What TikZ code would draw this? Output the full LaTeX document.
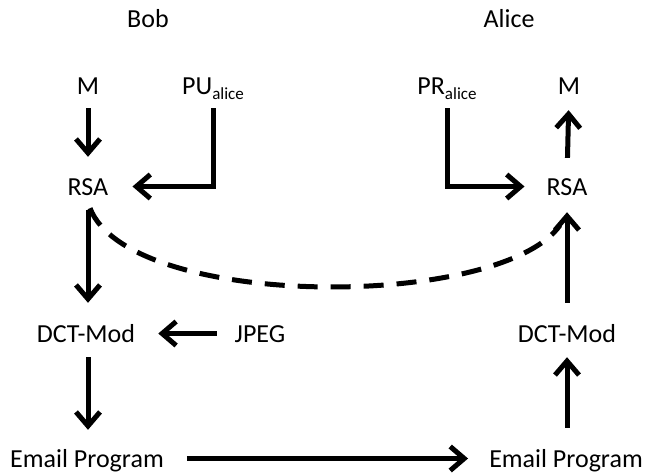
\documentclass[tikz,border=0pt]{standalone}
\usepackage{fontspec}
\setmainfont{Carlito}
\usetikzlibrary{arrows.meta}
\begin{document}
\begin{tikzpicture}[x=1pt,y=-1pt,
  lbl/.style={anchor=base,inner sep=0pt,text height=17pt,text depth=0pt,font=\fontsize{26}{30}\selectfont},
  conn/.style={line width=5pt,-{Straight Barb[length=14pt,width=24pt]}},
  dashline/.style={line width=5pt,dash pattern=on 20pt off 13pt}]
\useasboundingbox (0,0) rectangle (645,474);
\newcommand{\sub}[1]{\raisebox{-5pt}{\fontsize{17}{17}\selectfont #1}}
% headings
\node[lbl] (bob) at (148,27) {Bob};
\node[lbl] (alice) at (509,27) {Alice};
% Bob side
\node[lbl] (mL) at (88,94) {M};
\node[lbl] (pu) at (213,94) {PU\sub{alice}};
\node[lbl] (rsaL) at (88,195) {RSA};
\node[lbl] (dctL) at (86,342) {DCT-Mod};
\node[lbl] (jpeg) at (260,342) {JPEG};
\node[lbl] (emailL) at (87,467) {Email Program};
% Alice side
\node[lbl] (pr) at (447,94) {PR\sub{alice}};
\node[lbl] (mR) at (569,94) {M};
\node[lbl] (rsaR) at (567,195) {RSA};
\node[lbl] (dctR) at (567,342) {DCT-Mod};
\node[lbl] (emailR) at (566,467) {Email Program};
% connectors
\draw[conn,shorten <=14pt,shorten >=21pt] (mL.south) -- (rsaL.north);
\draw[conn,shorten <=14pt,shorten >=24pt] (pu.south) |- (rsaL.east);
\draw[conn,shorten <=14pt,shorten >=22pt] (pr.south) |- (rsaR.west);
\draw[conn,shorten <=20pt,shorten >=16pt] (rsaR.north) -- (mR.south);
\draw[conn,shorten <=15pt,shorten >=22pt] (rsaL.south) -- (dctL.north -| rsaL.south);
\draw[conn,shorten <=22pt,shorten >=17pt] (dctR.north -| rsaR.south) -- (rsaR.south);
\draw[conn,shorten <=18pt,shorten >=23pt] (jpeg.west) -- (dctL.east);
\draw[conn,shorten <=15pt,shorten >=20pt] (dctL.south -| rsaL.south) -- (emailL.north -| rsaL.south);
\draw[conn,shorten <=22pt,shorten >=15pt] (emailR.north -| rsaR.south) -- (dctR.south -| rsaR.south);
\draw[conn,shorten <=23pt,shorten >=21pt] (emailL.east) -- (emailR.west);
\draw[dashline] ([shift={(2,13)}]rsaL.south) .. controls +(40,102) and +(-60,85) .. ([shift={(-7,30)}]rsaR.south);
\end{tikzpicture}
\end{document}
